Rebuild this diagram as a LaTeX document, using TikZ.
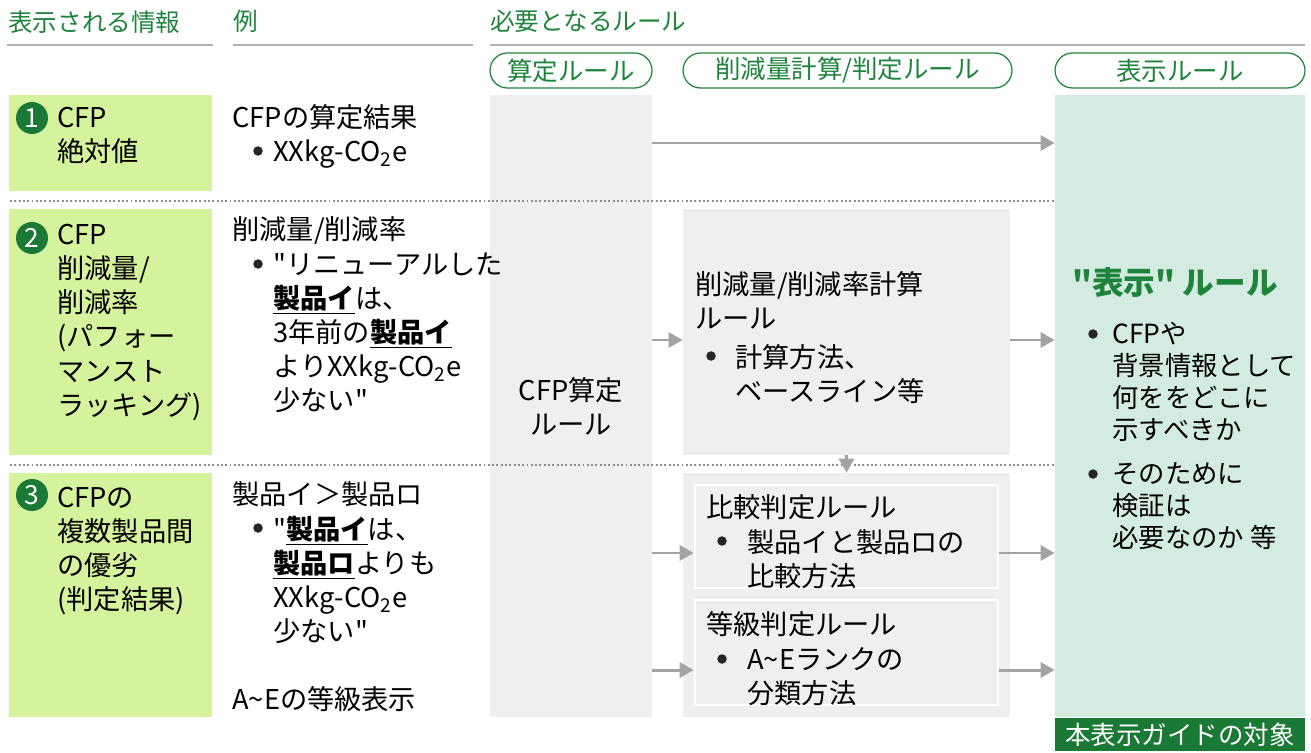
\documentclass[tikz,border=0pt]{standalone}
\usepackage{fontspec}
\setmainfont{Noto Sans CJK JP}[Ligatures=TeXOff]
\usepackage{tikz}
\usetikzlibrary{arrows.meta,calc,positioning}
\definecolor{RuleGreen}{RGB}{30,132,60}
\definecolor{DeepGreen}{RGB}{26,121,52}
\definecolor{LeafGreen}{RGB}{213,242,156}
\definecolor{MintGreen}{RGB}{211,235,225}
\definecolor{PanelGray}{RGB}{239,239,239}
\definecolor{ArrowGray}{RGB}{163,163,163}
\definecolor{LineGray}{RGB}{178,178,178}
\definecolor{DotGray}{RGB}{140,140,140}
\newcommand{\bodyfont}{\fontsize{15.5pt}{19.4pt}\selectfont}
\newcommand{\sidefont}{\fontsize{15pt}{18.2pt}\selectfont}
\newcommand{\headfont}{\fontsize{14pt}{17pt}\selectfont}
\newcommand{\seihin}[1]{\underline{\textbf{#1}}}
\newcommand{\cotwo}{XXkg-CO\textsubscript{2}e}

\begin{document}
\begin{tikzpicture}[x=0.02cm,y=-0.02cm,
    info/.style={fill=LeafGreen,inner sep=0pt,minimum width=4.06cm},
    panel/.style={fill=PanelGray,inner sep=0pt},
    subpanel/.style={fill=PanelGray,draw=white,line width=1.5pt,inner sep=0pt},
    badge/.style={circle,fill=DeepGreen,text=white,minimum size=0.64cm,inner sep=0pt,font=\fontsize{15pt}{15pt}\selectfont},
    pill/.style={draw=RuleGreen,line width=0.7pt,rounded corners=0.35cm,text=RuleGreen,minimum height=0.7cm,inner sep=0pt,font=\fontsize{14.5pt}{16pt}\selectfont},
    head/.style={anchor=north west,inner sep=0pt,text=RuleGreen,font=\headfont},
    txt/.style={anchor=north west,inner sep=0pt,align=left,font=\bodyfont},
    bul/.style={circle,fill=black!85,inner sep=0pt,minimum size=0.19cm},
    flow/.style={-{Triangle[length=0.28cm,width=0.3cm]},ArrowGray,line width=1.7pt},
    sep/.style={DotGray,line width=1.1pt,dash pattern=on 1.1pt off 1.35pt}]
  \useasboundingbox (0,0) rectangle (1311,753);

  \node[head] (hInfo) at (8,10) {表示される情報};
  \node[head] (hEx) at (233,10) {例};
  \node[head] (hRule) at (490,10) {必要となるルール};
  \draw[LineGray,line width=1.1pt] (7,45) -- (213,45) (233,45) -- (473,45) (490,45) -- (1305,45);

  \node[pill,minimum width=3.24cm] (pCalc) at (571,70.5) {算定ルール};
  \node[pill,minimum width=6.58cm] (pRed) at (847.5,70.5) {削減量計算/判定ルール};
  \node[pill,minimum width=5cm] (pDisp) at (1180,70.5) {表示ルール};

  \node[info,minimum height=1.92cm] (info1) at (110.5,143) {};
  \node[info,minimum height=4.92cm] (info2) at (110.5,332) {};
  \node[info,minimum height=4.88cm] (info3) at (110.5,595) {};

  \node[panel,minimum width=3.24cm,minimum height=12.44cm,align=center,font=\bodyfont] (calc) at (571,406) {CFP算定\\ルール};
  \node[panel,minimum width=6.54cm,minimum height=4.92cm] (reduce) at (846.5,332) {};
  \node[panel,minimum width=6.54cm,minimum height=4.88cm] (judge) at (846.5,595) {};
  \node[subpanel,minimum width=6.06cm,minimum height=2.06cm] (cmp) at (846.5,536.5) {};
  \node[subpanel,minimum width=6.06cm,minimum height=2.1cm] (grade) at (846.5,652.5) {};
  \node[fill=MintGreen,inner sep=0pt,minimum width=5cm,minimum height=12.44cm] (disp) at (1180,406) {};
  \node[fill=DeepGreen,text=white,inner sep=0pt,minimum width=5cm,minimum height=0.66cm,font=\fontsize{14.5pt}{16pt}\selectfont] (scope) at (1180,734.5) {本表示ガイドの対象};

  \node[badge] (n1) at (32,118) {1};
  \node[badge] (n2) at (32,238) {2};
  \node[badge] (n3) at (32,495) {3};
  \node[txt] (t1) at (57,107) {CFP\\絶対値};
  \node[txt] (t2) at (57,224) {CFP\\削減量/\\削減率\\(パフォー\\マンスト\\ラッキング)};
  \node[txt] (t3) at (57,487) {CFPの\\複数製品間\\の優劣\\(判定結果)};

  \node[txt] (e1) at (232,104) {CFPの算定結果};
  \node[bul] (b1) at (258,151) {};
  \node[txt] (e1a) at (273,139) {\cotwo};
  \node[txt] (e2) at (232,216) {削減量/削減率};
  \node[bul] (b2) at (258,264) {};
  \node[txt] (e2a) at (273,252) {"リニューアルした\\\seihin{製品イ}は、\\3年前の\seihin{製品イ}\\より\cotwo\\少ない"};
  \node[txt] (e3) at (232,481) {製品イ＞製品ロ};
  \node[bul] (b3) at (258,528) {};
  \node[txt] (e3a) at (273,516) {"\seihin{製品イ}は、\\\seihin{製品ロ}よりも\\\cotwo\\少ない"};
  \node[txt] (e3b) at (232,686) {A\textasciitilde Eの等級表示};

  \node[txt] (r1) at (695,271) {削減量/削減率計算\\ルール};
  \node[bul] (b4) at (711,356) {};
  \node[txt] (r1a) at (735,344) {計算方法、\\ベースライン等};
  \node[txt] (r2) at (706,494) {比較判定ルール};
  \node[bul] (b5) at (722,541) {};
  \node[txt] (r2a) at (747,529) {製品イと製品ロの\\比較方法};
  \node[txt] (r3) at (706,611) {等級判定ルール};
  \node[bul] (b6) at (722,659) {};
  \node[txt] (r3a) at (747,647) {A\textasciitilde Eランクの\\分類方法};

  \node[txt,text=RuleGreen,font=\fontsize{18pt}{20pt}\selectfont\bfseries] (dh) at (1072,267) {"表示" ルール};
  \node[bul] (b7) at (1093,334) {};
  \node[txt,font=\sidefont] (d1) at (1112,322) {CFPや\\背景情報として\\何ををどこに\\示すべきか};
  \node[bul] (b8) at (1093,474) {};
  \node[txt,font=\sidefont] (d2) at (1112,462) {そのために\\検証は\\必要なのか 等};

  \draw[sep] (10,201) -- (1055,201);
  \draw[sep] (10,465) -- (1055,465);

  \coordinate (lv3) at (0,553);
  \coordinate (lv4) at (0,670);
  \coordinate (lv2) at (0,340);
  \draw[flow] (calc.east |- info1) -- (disp.west |- info1);
  \draw[flow] (calc.east |- lv2) -- (reduce.west |- lv2);
  \draw[flow] (reduce.east |- lv2) -- (disp.west |- lv2);
  \draw[flow] (reduce.south) -- (judge.north);
  \draw[flow] (calc.east |- lv3) -- (cmp.west |- lv3);
  \draw[flow] (cmp.east |- lv3) -- (disp.west |- lv3);
  \draw[flow] (calc.east |- lv4) -- (grade.west |- lv4);
  \draw[flow] (grade.east |- lv4) -- (disp.west |- lv4);
\end{tikzpicture}
\end{document}
